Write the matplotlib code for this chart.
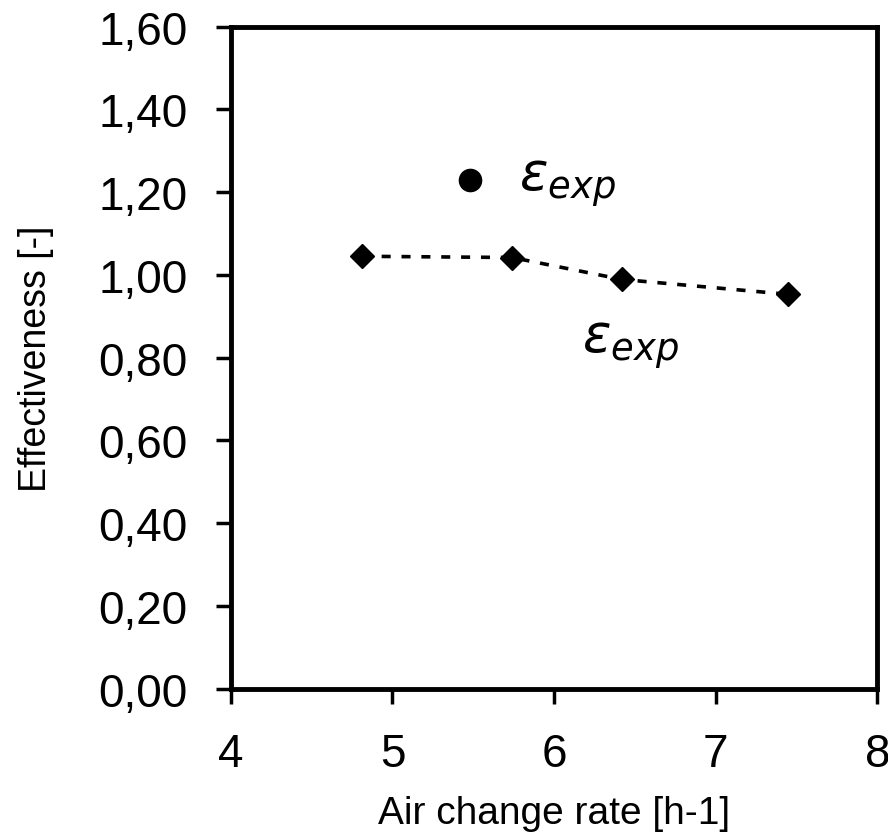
import matplotlib
matplotlib.use("Agg")
import matplotlib.pyplot as plt

plt.rcParams['font.family'] = ['Liberation Sans', 'DejaVu Sans']
plt.rcParams['mathtext.fontset'] = 'custom'
plt.rcParams['mathtext.it'] = 'DejaVu Sans:italic'
plt.rcParams['mathtext.rm'] = 'DejaVu Sans'

# data
circle_x = [5.48]
circle_y = [1.23]
diamond_x = [4.81, 5.74, 6.42, 7.45]
diamond_y = [1.045, 1.042, 0.989, 0.953]
yticks = [0.0, 0.2, 0.4, 0.6, 0.8, 1.0, 1.2, 1.4, 1.6]
ytick_labels = ['0,00', '0,20', '0,40', '0,60', '0,80', '1,00', '1,20', '1,40', '1,60']
xticks = [4, 5, 6, 7, 8]

fig = plt.figure(figsize=(8.88, 8.37), dpi=100)
ax = fig.add_axes([0.260, 0.176, 0.728, 0.791])

ax.plot(diamond_x, diamond_y, linestyle=(0, (2.5, 3)), color='black', lw=2.6,
        marker='D', markersize=12, markerfacecolor='black', markeredgecolor='black')
ax.plot(circle_x, circle_y, 'o', color='black', markersize=16)

ax.set_xlim(4, 8)
ax.set_ylim(0, 1.6)
ax.set_xticks(xticks)
ax.set_xticklabels([str(x) for x in xticks])
ax.set_yticks(yticks)
ax.set_yticklabels(ytick_labels)

for s in ax.spines.values():
    s.set_linewidth(3.5)
ax.tick_params(axis='both', direction='out', length=11, width=2.5, labelsize=33)
ax.tick_params(axis='y', pad=20)
ax.tick_params(axis='x', pad=20)

ax.set_xlabel('Air change rate [h-1]', fontsize=28, labelpad=14)
ax.set_ylabel('Effectiveness [-]', fontsize=27, labelpad=32)

ax.text(5.78, 1.22, r'$\varepsilon_{exp}$', fontsize=38, ha='left', va='center')
ax.text(6.17, 0.83, r'$\varepsilon_{exp}$', fontsize=38, ha='left', va='center')

fig.savefig('out.png', dpi=100)
